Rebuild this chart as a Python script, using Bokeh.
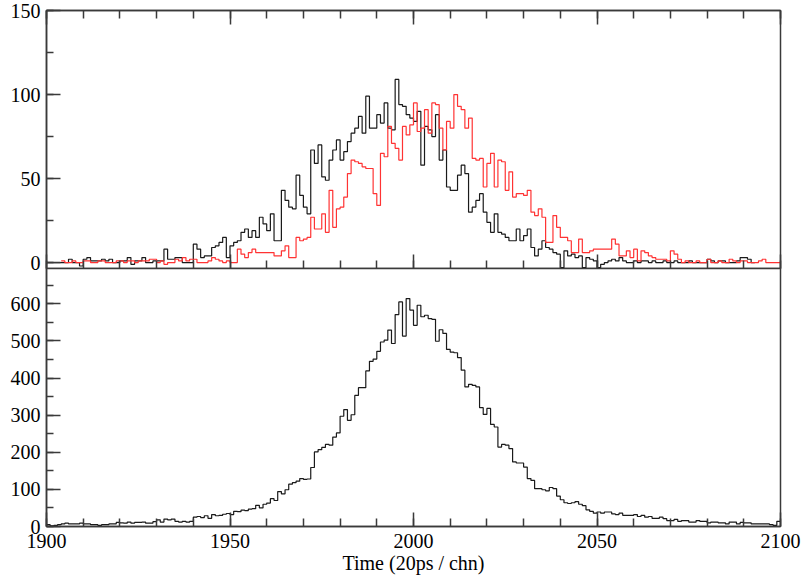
from bokeh.plotting import figure
from bokeh.models import Range1d, LinearAxis, SingleIntervalTicker, FixedTicker
from bokeh.layouts import column
from bokeh.embed import file_html
from bokeh.resources import INLINE

# ---------------- data (counts per channel) ----------------
black_top_start = 1900
black_top = [
    0, 0, 0, 0, 0, 0, 2, 0, 0, -2,          # 1900-1909
    2, 3, 1, 1, 1, 2, 1, 2, 0, 0,           # 1910-1919
    1, 1, 3, -1, 1, 1, 3, 0, 0, 1,          # 1920-1929
    1, 1, 8, 2, 2, 3, 3, 0, 0, 0,           # 1930-1939
    11, 8, 3, 4, 4, 9, 10, 12, 15, 3,       # 1940-1949
    10, 12, 13, 18, 20, 15, 19, 15, 27, 23, # 1950-1959
    19, 29, 13, 13, 43, 37, 33, 32, 52, 40, # 1960-1969
    33, 29, 67, 59, 70, 51, 49, 61, 67, 73, # 1970-1979
    61, 66, 72, 77, 80, 87, 77, 99, 80, 80, # 1980-1989
    88, 83, 95, 80, 79, 109, 94, 93, 88, 86,# 1990-1999
    84, 90, 58, 81, 79, 75, 88, 61, 67, 45, # 2000-2009
    43, 43, 52, 58, 53, 30, 33, 37, 41, 30, # 2010-2019
    24, 18, 29, 18, 17, 15, 13, 13, 20, 13, # 2020-2029
    16, 20, 9, 4, 8, 13, 9, 8, 6, 5,        # 2030-2039
    -3, 7, 4, 5, 3, 4, -3, 3, 2, 1,         # 2040-2049
    -3, -1, 0, 1, 2, 1, 3, 1, 0, 0,         # 2050-2059
    1, 0, 1, 1, 0, 1, 0, 0, 1, 0,           # 2060-2069
    0, 1, 0, 0, 0, 1, 0, 0, 0, 0,           # 2070-2079
    2, 1, 0, 1, 1, 0, 0, 0, 1, 3,           # 2080-2089
    3, 2, 0,                                # 2090-2092
]

red_top_start = 1904
red_top = [
    1, 0, 0, 1, 0, 0,                       # 1904-1909
    1, 1, 0, 0, 1, 1, 0, 0, 0, 1,           # 1910-1919
    1, 0, 1, 1, 0, 1, 1, 1, 2, 2,           # 1920-1929
    0, 1, -1, 0, 0, 2, 1, 3, 1, 2,          # 1930-1939
    2, 0, 0, 0, 1, 3, 2, 1, 0, 1,           # 1940-1949
    0, 0, 8, 5, 3, 6, 8, 6, 6, 6,           # 1950-1959
    6, 6, 4, 4, 7, 10, 3, 3, 15, 13,        # 1960-1969
    14, 15, 27, 20, 20, 29, 18, 43, 21, 32, # 1970-1979
    33, 39, 53, 61, 60, 59, 57, 56, 56, 41, # 1980-1989
    34, 65, 63, 81, 71, 68, 61, 81, 76, 82, # 1990-1999
    95, 78, 80, 91, 77, 95, 94, 80, 67, 84, # 2000-2009
    80, 100, 93, 91, 80, 86, 62, 61, 62, 45,# 2010-2019
    59, 65, 45, 61, 60, 43, 54, 39, 41, 41, # 2020-2029
    40, 43, 30, 28, 32, 27, 12, 12, 28, 21, # 2030-2039
    15, 15, 13, 6, 6, 14, 6, 6, 7, 8,       # 2040-2049
    8, 8, 8, 8, 14, 11, 4, 4, 7, 3,         # 2050-2059
    8, 1, 7, 6, 4, 3, 2, 2, 2, 1,           # 2060-2069
    7, 5, 2, 0, 1, 0, 0, 1, 0, 0,           # 2070-2079
    2, 0, 0, 1, 0, 0, 2, 1, 0, 1,           # 2080-2089
    1, 0, 0, 0, 1, 2, 0, 0, 0, 0,           # 2090-2099
]

bottom_start = 1900
bottom = [
    5, 2, 3, 5, 7, 9, 7, 7, 7, 9,                   # 1900-1909
    7, 7, 5, 5, 3, 5, 5, 7, 7, 11,                  # 1910-1919
    10, 9, 12, 9, 11, 11, 12, 9, 9, 13,             # 1920-1929
    18, 12, 20, 18, 20, 14, 12, 14, 12, 14,         # 1930-1939
    25, 27, 24, 29, 22, 32, 29, 30, 33, 35,         # 1940-1949
    32, 41, 40, 44, 43, 47, 48, 57, 50, 60,         # 1950-1959
    63, 75, 70, 94, 88, 99, 114, 118, 122, 129,     # 1960-1969
    127, 128, 159, 201, 207, 213, 221, 219, 241, 252,  # 1970-1979
    297, 315, 286, 301, 353, 374, 374, 419, 445, 451,  # 1980-1989
    472, 497, 502, 529, 493, 571, 605, 513, 614, 583,  # 1990-1999
    542, 596, 565, 569, 560, 558, 499, 530, 520, 477,  # 2000-2009
    470, 468, 455, 421, 376, 383, 380, 376, 320, 302,  # 2010-2019
    318, 275, 268, 214, 221, 219, 210, 174, 171, 171,  # 2020-2029
    160, 129, 124, 102, 102, 99, 96, 105, 102, 82,     # 2030-2039
    72, 64, 62, 64, 67, 60, 56, 45, 41, 36,            # 2040-2049
    39, 36, 39, 39, 34, 32, 36, 30, 30, 30,            # 2050-2059
    32, 27, 30, 25, 27, 22, 22, 25, 21, 16,            # 2060-2069
    16, 19, 14, 16, 16, 12, 12, 16, 14, 14,            # 2070-2079
    10, 12, 12, 10, 10, 7, 12, 12, 7, 11,              # 2080-2089
    10, 10, 7, 7, 7, 7, 7, 5, 3, 14,                   # 2090-2099
]

x_major = [1900, 1950, 2000, 2050, 2100]
x_minor = list(range(1900, 2101, 10))
x_label = "Time (20ps / chn)"

# ---------------- styling ----------------
FONT = "Liberation Serif"
AX = "#3a3a3a"
W = 803
OVERLAP = 6


def steps(start, vals):
    xs = list(range(start, start + len(vals) + 1))
    ys = list(vals) + [vals[-1]]
    return xs, ys


def style_axis(ax, major_in=14, minor_in=7, line=True):
    ax.axis_line_color = AX if line else None
    ax.axis_line_width = 1.5
    ax.major_tick_line_color = AX
    ax.minor_tick_line_color = AX
    ax.major_tick_line_width = 1.5
    ax.minor_tick_line_width = 1.5
    ax.major_tick_in = major_in
    ax.major_tick_out = 0
    ax.minor_tick_in = minor_in
    ax.minor_tick_out = 0
    ax.major_label_text_font = FONT
    ax.major_label_text_font_size = "20px"
    ax.major_label_text_color = "black"
    ax.major_label_standoff = 6


def tick_only_axes(p, place, first_axis=None):
    # inward ticks without labels: minor-tick-only axes (no major ticks -> no labels)
    a1 = first_axis if first_axis is not None else LinearAxis()
    a1.ticker = FixedTicker(ticks=[], minor_ticks=x_minor)
    style_axis(a1, minor_in=8, line=True)
    if first_axis is None:
        p.add_layout(a1, place)
    a2 = LinearAxis(ticker=FixedTicker(ticks=[], minor_ticks=x_major))
    style_axis(a2, minor_in=14, line=False)
    p.add_layout(a2, place)


def base_fig(height, yr, top, bottom_b, fill=True):
    p = figure(width=W, height=height, x_range=Range1d(1900, 2100), y_range=yr,
               output_backend="svg", toolbar_location=None,
               min_border_left=46, min_border_right=23,
               min_border_top=top, min_border_bottom=bottom_b)
    p.xgrid.visible = False
    p.ygrid.visible = False
    p.outline_line_color = AX
    p.outline_line_width = 1.5
    p.background_fill_color = "white"
    p.border_fill_color = "white" if fill else None
    return p


# ---- top panel ----
p1 = base_fig(268 + OVERLAP, Range1d(-3.5, 150), 10, OVERLAP)
xb, yb = steps(black_top_start, black_top)
xr, yr_ = steps(red_top_start, red_top)
p1.step(xb, yb, mode="after", line_color="#1a1a1a", line_width=1.2)
p1.step(xr, yr_, mode="after", line_color="#ff3333", line_width=1.2)

tick_only_axes(p1, "below", first_axis=p1.xaxis[0])
tick_only_axes(p1, "above")
p1.yaxis[0].ticker = SingleIntervalTicker(interval=50, num_minor_ticks=2)
style_axis(p1.yaxis[0], major_in=14, minor_in=7)

# ---- bottom panel (slides under the top panel's bottom margin) ----
p2 = base_fig(313, Range1d(0, 695), 0, 55, fill=False)
p2.margin = (-OVERLAP, 0, 0, 0)
xs, ys = steps(bottom_start, bottom)
p2.step(xs, ys, mode="after", line_color="#1a1a1a", line_width=1.2)
p2.xaxis[0].ticker = SingleIntervalTicker(interval=50, num_minor_ticks=5)
style_axis(p2.xaxis[0], major_in=14, minor_in=8)
p2.xaxis[0].axis_label = x_label
p2.xaxis[0].axis_label_text_font = FONT
p2.xaxis[0].axis_label_text_font_size = "20px"
p2.xaxis[0].axis_label_text_font_style = "normal"
p2.xaxis[0].axis_label_text_color = "black"
p2.xaxis[0].axis_label_standoff = 1
p2.xaxis[0].major_label_standoff = 7
p2.yaxis[0].ticker = SingleIntervalTicker(interval=100, num_minor_ticks=2)
style_axis(p2.yaxis[0], major_in=14, minor_in=7)

layout = column(p1, p2, spacing=0)
open("out.html", "w").write(file_html(layout, INLINE))
